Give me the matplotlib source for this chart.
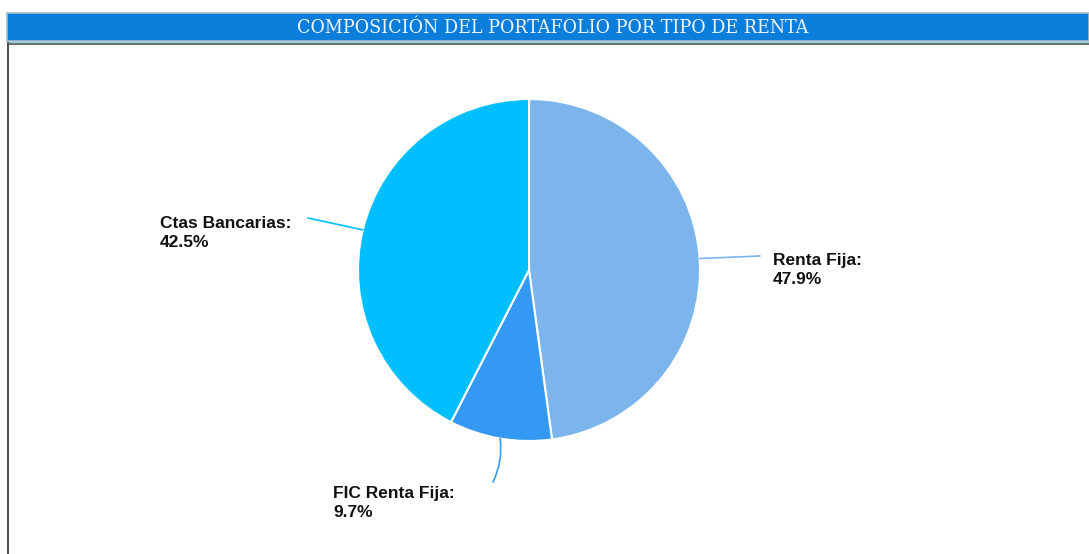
import numpy as np
import matplotlib.pyplot as plt
from matplotlib.patches import Rectangle

# Data
labels = ['Renta Fija', 'FIC Renta Fija', 'Ctas Bancarias']
values = [47.9, 9.7, 42.5]
colors = ['#7cb5ec', '#3399f3', '#00bfff']
title = 'COMPOSICIÓN DEL PORTAFOLIO POR TIPO DE RENTA'

W, H = 1089, 554
fig = plt.figure(figsize=(W / 100, H / 100), dpi=100)
ax = fig.add_axes([0, 0, 1, 1])

# pie in pixel-like coordinates (y up)
cx, cy, r = 529, H - 270, 171
wedges, _ = ax.pie(values, colors=colors, startangle=90, counterclock=False,
                   center=(cx, cy), radius=r, frame=True,
                   wedgeprops=dict(edgecolor='white', linewidth=1.5))
ax.set_xlim(0, W)
ax.set_ylim(0, H)
ax.set_aspect('equal')
ax.axis('off')

# title bar and frame
ax.add_patch(Rectangle((7, H - 41), W - 7, 28, facecolor='#0b7ddb',
                       edgecolor='#a9bcc6', linewidth=1.2, zorder=3))
ax.plot([8, W], [H - 42, H - 42], color='#8fd6e6', lw=1, zorder=4)
ax.plot([8, W], [H - 43.5, H - 43.5], color='#555555', lw=1.2, zorder=4)
ax.plot([8, 8], [0, H - 43], color='#555555', lw=1.5, zorder=4)
ax.text(553, H - 28, title, ha='center', va='center', color='#eef6ff',
        fontsize=14, family='DejaVu Serif', fontstretch='condensed', zorder=5)

# labels with leader lines
label_pos = [(773, 270), (333, 503), (160, 233)]
elbows = [(760, 256), (493, 482), (308, 218)]
rads = [0.0, 0.15, 0.0]
for w, lab, v, (tx, ty), (ex, ey), rad, c in zip(wedges, labels, values,
                                                  label_pos, elbows, rads, colors):
    mid = np.deg2rad((w.theta1 + w.theta2) / 2)
    px, py = cx + r * np.cos(mid), cy + r * np.sin(mid)
    ax.annotate('', xy=(px, py), xytext=(ex, H - ey),
                arrowprops=dict(arrowstyle='-', color=c, lw=1.2,
                                shrinkA=0, shrinkB=0,
                                connectionstyle=f'arc3,rad={rad}'))
    ax.text(tx, H - ty, f'{lab}:\n{v}%', ha='left', va='center',
            fontsize=12.5, fontweight='bold', color='#111111',
            family='Liberation Sans', linespacing=1.4)

fig.savefig('out.png', dpi=100)
